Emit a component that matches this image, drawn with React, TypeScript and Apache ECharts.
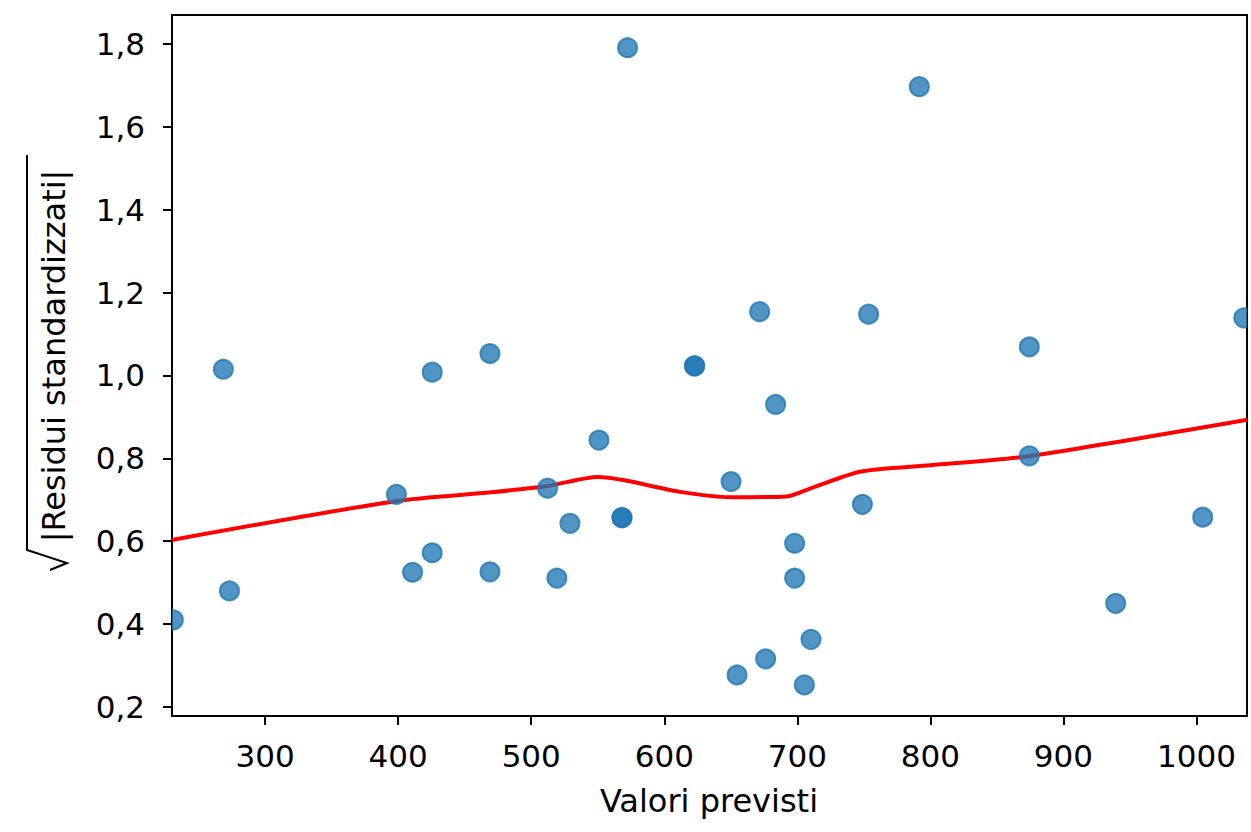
import { useEffect, useRef } from 'react'
import * as echarts from 'echarts'

// valori previsti (fitted) e sqrt(|residui standardizzati|)
const FITTED = [
  231, 268.6, 273.2, 398.7, 410.8, 425.6, 425.6, 469, 469, 512.3, 519.3, 529.1, 550.9, 568.2,
  568.2, 572.4, 622.8, 622.8, 650.2, 654.7, 671.7, 676.2, 683.7, 698, 698, 705.3, 710.3, 748.9,
  753.6, 791.7, 874.4, 874.4, 939.3, 1004.7, 1035.6,
]
const SQRT_RESID = [
  0.41, 1.015, 0.48, 0.713, 0.525, 0.572, 1.008, 1.053, 0.526, 0.728, 0.511, 0.643, 0.844, 0.657,
  0.657, 1.791, 1.023, 1.023, 0.744, 0.277, 1.154, 0.316, 0.93, 0.595, 0.511, 0.253, 0.363, 0.689,
  1.148, 1.697, 1.069, 0.806, 0.45, 0.658, 1.139,
]

// curva lowess
const LOWESS_X = [230, 399, 470, 512, 550, 570, 612, 650, 692, 712, 748, 800, 874, 1038]
const LOWESS_Y = [0.603, 0.697, 0.718, 0.733, 0.755, 0.747, 0.719, 0.706, 0.708, 0.73, 0.768, 0.783, 0.805, 0.893]

const X_TICKS = [300, 400, 500, 600, 700, 800, 900, 1000]
const Y_TICKS = [0.2, 0.4, 0.6, 0.8, 1.0, 1.2, 1.4, 1.6, 1.8]

const FONT = 'DejaVu Sans, sans-serif'

export default function App() {
  const chartRef = useRef<HTMLDivElement>(null)

  useEffect(() => {
    if (!chartRef.current) return
    const chart = echarts.init(chartRef.current, null, { renderer: 'svg' })

    const points = FITTED.map((x, i) => [x, SQRT_RESID[i]])
    const lowess = LOWESS_X.map((x, i) => [x, LOWESS_Y[i]])

    const option: any = {
      animation: false,
      backgroundColor: '#ffffff',
      grid: {
        left: 172,
        right: 4,
        top: 15,
        bottom: 116,
        show: true,
        borderColor: '#000',
        borderWidth: 2,
        backgroundColor: 'transparent',
      },
      xAxis: {
        type: 'value',
        min: 230,
        max: 1038,
        axisLine: { show: true, onZero: false, lineStyle: { color: '#000', width: 2 } },
        splitLine: { show: false },
        axisTick: {
          show: true,
          customValues: X_TICKS,
          length: 9,
          lineStyle: { color: '#000', width: 2 },
        },
        axisLabel: {
          customValues: X_TICKS,
          margin: 24,
          color: '#000',
          fontSize: 31,
          fontFamily: FONT,
          formatter: (v: number) => String(v),
        },
      },
      yAxis: {
        type: 'value',
        min: 0.178,
        max: 1.87,
        axisLine: { show: true, onZero: false, lineStyle: { color: '#000', width: 2 } },
        splitLine: { show: false },
        axisTick: {
          show: true,
          customValues: Y_TICKS,
          length: 9,
          lineStyle: { color: '#000', width: 2 },
        },
        axisLabel: {
          customValues: Y_TICKS,
          margin: 27,
          color: '#000',
          fontSize: 31,
          fontFamily: FONT,
          formatter: (v: number) => v.toFixed(1).replace('.', ','),
        },
      },
      series: [
        {
          type: 'line',
          data: lowess,
          showSymbol: false,
          smooth: 0.25,
          clip: true,
          z: 2,
          lineStyle: { color: '#ff0000', width: 4 },
        },
        {
          type: 'custom',
          clip: true,
          z: 3,
          data: points,
          renderItem: (_params: any, api: any) => {
            const p = api.coord([api.value(0), api.value(1)])
            return {
              type: 'circle',
              shape: { cx: p[0], cy: p[1], r: 9.5 },
              style: {
                fill: 'rgba(31,119,180,0.78)',
                stroke: 'rgba(31,119,180,0.8)',
                lineWidth: 2,
              },
            }
          },
        },
      ],
      graphic: [
        {
          type: 'text',
          x: 709,
          y: 801,
          style: {
            text: 'Valori previsti',
            fill: '#000',
            fontSize: 32,
            fontFamily: FONT,
            align: 'center',
            verticalAlign: 'middle',
            textAlign: 'center',
            textVerticalAlign: 'middle',
          },
        },
        {
          type: 'text',
          x: 54,
          y: 356,
          rotation: Math.PI / 2,
          style: {
            text: '|Residui standardizzati|',
            fill: '#000',
            fontSize: 32,
            fontFamily: FONT,
            align: 'center',
            verticalAlign: 'middle',
            textAlign: 'center',
            textVerticalAlign: 'middle',
          },
        },
        {
          // radice quadrata (simbolo matematico)
          type: 'polyline',
          shape: {
            points: [
              [27, 155],
              [27, 550],
              [67, 563],
              [50, 570],
            ],
          },
          style: { stroke: '#000', lineWidth: 2, fill: 'none' },
        },
      ],
    }

    chart.setOption(option)

    return () => {
      chart.dispose()
    }
  }, [])

  return (
    <div
      ref={chartRef}
      style={{ position: 'fixed', left: 0, top: 0, width: '1251px', height: '832px' }}
    />
  )
}
